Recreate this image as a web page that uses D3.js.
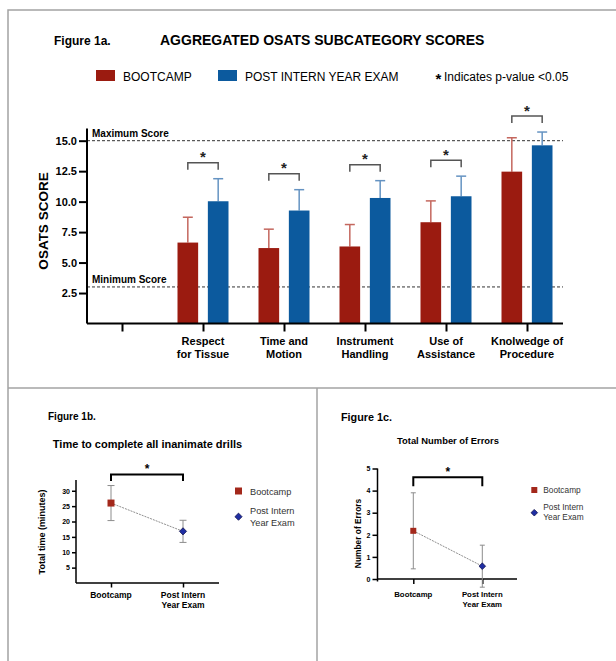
<!DOCTYPE html>
<html>
<head>
<meta charset="utf-8">
<script src="https://cdn.jsdelivr.net/npm/d3@7"></script>
<style>
  html, body { margin: 0; padding: 0; background: #fff; }
  svg { display: block; font-family: "Liberation Sans", Arial, Helvetica, sans-serif; }
</style>
</head>
<body>
<svg id="chart" width="616" height="661"></svg>
<script>
// ---- Figure 1a: aggregated OSATS subcategory scores ----
const categories = ["", "Respect for Tissue", "Time and Motion", "Instrument Handling", "Use of Assistance", "Knolwedge of Procedure"];
const categoryLines = [[], ["Respect", "for Tissue"], ["Time and", "Motion"], ["Instrument", "Handling"], ["Use of", "Assistance"], ["Knolwedge of", "Procedure"]];
const bootcampMean = [6.64, 6.19, 6.32, 8.31, 12.46];
const bootcampSD   = [2.08, 1.55, 1.80, 1.75, 2.78];
const postMean     = [10.03, 9.27, 10.30, 10.44, 14.62];
const postSD       = [1.85, 1.71, 1.42, 1.65, 1.09];
const significant  = [true, true, true, true, true];
const scoreTicks   = [2.5, 5, 7.5, 10, 12.5, 15];
const scoreLimits  = [{ value: 15, label: "Maximum Score" }, { value: 3, label: "Minimum Score" }];
const seriesNames  = ["BOOTCAMP", "POST INTERN YEAR EXAM"];

// ---- Figure 1b: time to complete all inanimate drills ----
const groups     = ["Bootcamp", "Post Intern Year Exam"];
const groupLines = [["Bootcamp"], ["Post Intern", "Year Exam"]];
const timeMean   = [26.0, 16.8];
const timeErr    = [5.7, 3.6];
const timeTicks  = [5, 10, 15, 20, 25, 30];

// ---- Figure 1c: total number of errors ----
const errorMean  = [2.18, 0.58];
const errorErr   = [1.72, 0.95];
const errorTicks = [0, 1, 2, 3, 4, 5];

const legendNames = [["Bootcamp"], ["Post Intern", "Year Exam"]];

const RED = "#9b1b10", BLUE = "#0c5a9e";
const RED_WHISKER = "#c4675e", BLUE_WHISKER = "#6593c2";
const MARK_RED = "#a3281b", MARK_BLUE = "#1f2ea3";

const svg = d3.select("#chart");

// panel frame
const frame = svg.append("g").attr("fill", "none").attr("stroke", "#a3a3a3").attr("stroke-width", 1.5);
frame.append("path").attr("d", "M8,661V10H616");
frame.append("path").attr("d", "M8,388H616");
frame.append("path").attr("d", "M317,388V661");

// =========================== Figure 1a ===========================
const g1 = svg.append("g");
g1.append("text").attr("x", 54).attr("y", 45).attr("font-size", 12).attr("font-weight", "bold").text("Figure 1a.");
g1.append("text").attr("x", 160).attr("y", 44.5).attr("font-size", 14).attr("font-weight", "bold")
  .text("AGGREGATED OSATS SUBCATEGORY SCORES");

// legend
const leg1 = g1.append("g").attr("font-size", 12);
const legendX = [96, 218];
seriesNames.forEach((name, i) => {
  leg1.append("rect").attr("x", legendX[i]).attr("y", 70).attr("width", 19).attr("height", 11)
    .attr("fill", i === 0 ? RED : BLUE);
  leg1.append("text").attr("x", legendX[i] + 27).attr("y", 81).text(name);
});
leg1.append("text").attr("x", 438.5).attr("y", 84).attr("text-anchor", "middle").attr("font-size", 15).attr("font-weight", "bold").text("*");
leg1.append("text").attr("x", 444).attr("y", 81).text("Indicates p-value <0.05");

const x1a = d3.scalePoint().domain(categories).range([122, 527]);
const sub = d3.scaleBand().domain(["bootcamp", "post"]).range([-25.5, 25.5]).paddingInner(0.32);
const y1a = d3.scaleLinear().domain([0, 16]).range([323.5, 128.5]);
const plotLeft = 87, plotRight = 563;

// reference lines for max / min score
scoreLimits.forEach(s => {
  g1.append("line").attr("x1", plotLeft).attr("x2", plotRight)
    .attr("y1", y1a(s.value)).attr("y2", y1a(s.value))
    .attr("stroke", "#333").attr("stroke-width", 1).attr("stroke-dasharray", "3,2");
  g1.append("text").attr("x", plotLeft + 5).attr("y", y1a(s.value) - 4)
    .attr("font-size", 10).attr("font-weight", "bold").text(s.label);
});

const rows = categories.slice(1).map((c, i) => ({
  cat: c,
  sig: significant[i],
  values: [
    { key: "bootcamp", mean: bootcampMean[i], sd: bootcampSD[i], fill: RED, whisker: RED_WHISKER },
    { key: "post", mean: postMean[i], sd: postSD[i], fill: BLUE, whisker: BLUE_WHISKER }
  ]
}));

const barG = g1.append("g");
const cells = barG.selectAll("g.cat").data(rows).join("g").attr("class", "cat")
  .attr("transform", d => `translate(${x1a(d.cat)},0)`);
const bars = cells.selectAll("g.bar").data(d => d.values).join("g").attr("class", "bar");
// whiskers (upper SD only)
bars.append("line")
  .attr("x1", d => sub(d.key) + sub.bandwidth() / 2).attr("x2", d => sub(d.key) + sub.bandwidth() / 2)
  .attr("y1", d => y1a(d.mean)).attr("y2", d => y1a(d.mean + d.sd))
  .attr("stroke", d => d.whisker).attr("stroke-width", 1.5);
bars.append("line")
  .attr("x1", d => sub(d.key) + sub.bandwidth() / 2 - 5).attr("x2", d => sub(d.key) + sub.bandwidth() / 2 + 5)
  .attr("y1", d => y1a(d.mean + d.sd)).attr("y2", d => y1a(d.mean + d.sd))
  .attr("stroke", d => d.whisker).attr("stroke-width", 1.5);
bars.append("rect")
  .attr("x", d => sub(d.key)).attr("width", sub.bandwidth())
  .attr("y", d => y1a(d.mean)).attr("height", d => y1a(0) - y1a(d.mean))
  .attr("fill", d => d.fill);

// significance brackets
cells.filter(d => d.sig).each(function (d) {
  const xa = sub("bootcamp") + sub.bandwidth() / 2;
  const xb = sub("post") + sub.bandwidth() / 2;
  const legBottom = Math.min(...d.values.map(v => y1a(v.mean + v.sd))) - 9;
  const top = legBottom - 7;
  const g = d3.select(this);
  g.append("path").attr("d", `M${xa},${legBottom}V${top}H${xb}V${legBottom}`)
    .attr("fill", "none").attr("stroke", "#555").attr("stroke-width", 1.5);
  g.append("text").attr("x", (xa + xb) / 2).attr("y", top - 0.5).attr("text-anchor", "middle")
    .attr("font-size", 15).attr("font-weight", "bold").attr("fill", "#222").text("*");
});

// axes
const yAx1 = g1.append("g").attr("transform", `translate(${plotLeft},0)`)
  .call(d3.axisLeft(y1a).tickValues(scoreTicks).tickFormat(d3.format(".1f")).tickSize(8).tickPadding(2).tickSizeOuter(0));
yAx1.select(".domain").attr("d", `M0,${y1a(0)}V${y1a(16)}`);
const xAx1 = g1.append("g").attr("transform", `translate(0,${y1a(0)})`)
  .call(d3.axisBottom(x1a).tickSize(8).tickFormat("").tickSizeOuter(0));
xAx1.select(".domain").attr("d", `M${plotLeft},0H${plotRight}`);
[yAx1, xAx1].forEach(a => {
  a.selectAll("path,line").attr("stroke", "#000").attr("stroke-width", 2);
  a.selectAll("text").attr("font-size", 11).attr("font-weight", "bold").attr("fill", "#000")
    .attr("font-family", "Liberation Sans, Arial, sans-serif");
});
// category labels (two lines)
categories.forEach((c, i) => {
  const t = g1.append("text").attr("text-anchor", "middle").attr("font-size", 11).attr("font-weight", "bold");
  categoryLines[i].forEach((line, j) => {
    t.append("tspan").attr("x", x1a(c)).attr("y", 345 + j * 12.5).text(line);
  });
});
g1.append("text").attr("transform", `translate(48,221) rotate(-90)`).attr("text-anchor", "middle")
  .attr("font-size", 13.5).attr("font-weight", "bold").text("OSATS SCORE");

// ================ shared dot-plot drawer (1b / 1c) ================
function dotPanel(opt) {
  const g = svg.append("g");
  const x = d3.scalePoint().domain(groups).range(opt.xRange);
  const y = d3.scaleLinear().domain(opt.yDomain).range(opt.yRange);

  g.append("text").attr("x", opt.figX).attr("y", opt.figY).attr("font-size", opt.figSize)
    .attr("font-weight", "bold").text(opt.figLabel);
  g.append("text").attr("x", opt.titleX).attr("y", opt.titleY).attr("text-anchor", "middle")
    .attr("font-size", opt.titleSize).attr("font-weight", "bold").text(opt.title);

  // axes
  const ya = g.append("g").attr("transform", `translate(${opt.axisLeft},0)`)
    .call(d3.axisLeft(y).tickValues(opt.ticks).tickFormat(d3.format("d")).tickSize(opt.tickLen).tickPadding(2).tickSizeOuter(0));
  ya.select(".domain").attr("d", `M0,${y(opt.yDomain[0]) + opt.yOvershoot}V${y(opt.yDomain[1])}`);
  const xa = g.append("g").attr("transform", `translate(0,${y(0)})`)
    .call(d3.axisBottom(x).tickSize(opt.xTickLen).tickFormat("").tickSizeOuter(0));
  xa.select(".domain").attr("d", `M${opt.axisLeft},0H${opt.axisRight}`);
  [ya, xa].forEach(a => {
    a.selectAll("path,line").attr("stroke", "#000").attr("stroke-width", 1.5);
    a.selectAll("text").attr("font-size", 7).attr("font-weight", "bold").attr("fill", "#000")
      .attr("font-family", "Liberation Sans, Arial, sans-serif");
  });
  groups.forEach((grp, i) => {
    const t = g.append("text").attr("text-anchor", "middle").attr("font-size", opt.labelSize).attr("font-weight", "bold");
    groupLines[i].forEach((line, j) => {
      t.append("tspan").attr("x", x(grp)).attr("y", opt.labelY + j * opt.labelGap).text(line);
    });
  });
  g.append("text").attr("transform", `translate(${opt.yLabelX},${opt.yLabelY}) rotate(-90)`)
    .attr("text-anchor", "middle").attr("font-size", opt.yLabelSize).attr("font-weight", "bold").text(opt.yLabel);

  const pts = groups.map((grp, i) => ({ grp, mean: opt.mean[i], err: opt.err[i] }));

  // error bars
  pts.forEach(p => {
    const cx = x(p.grp);
    g.append("line").attr("x1", cx).attr("x2", cx).attr("y1", y(p.mean - p.err)).attr("y2", y(p.mean + p.err))
      .attr("stroke", "#8c8c8c").attr("stroke-width", 1);
    [p.mean - p.err, p.mean + p.err].forEach(v => {
      g.append("line").attr("x1", cx - opt.cap).attr("x2", cx + opt.cap).attr("y1", y(v)).attr("y2", y(v))
        .attr("stroke", "#8c8c8c").attr("stroke-width", 1);
    });
  });
  // connecting line
  g.append("path").attr("d", d3.line().x(p => x(p.grp)).y(p => y(p.mean))(pts))
    .attr("fill", "none").attr("stroke", "#8f8f8f").attr("stroke-width", 1).attr("stroke-dasharray", "2,1");

  // significance bracket
  const bTop = y(opt.bracketVal);
  g.append("path").attr("d", `M${x(groups[0])},${bTop + opt.bracketLeg}V${bTop}H${x(groups[1])}V${bTop + opt.bracketLeg}`)
    .attr("fill", "none").attr("stroke", "#000").attr("stroke-width", 2);
  g.append("text").attr("x", (x(groups[0]) + x(groups[1])) / 2).attr("y", bTop - 1).attr("text-anchor", "middle")
    .attr("font-size", 12).attr("font-weight", "bold").text("*");

  // markers
  const square = d3.symbol().type(d3.symbolSquare).size(opt.squareSize)();
  const diamond = d3.symbol().type(d3.symbolSquare).size(opt.diamondSize)();
  g.append("path").attr("d", square).attr("transform", `translate(${x(groups[0])},${y(pts[0].mean)})`)
    .attr("fill", MARK_RED);
  g.append("path").attr("d", diamond).attr("transform", `translate(${x(groups[1])},${y(pts[1].mean)}) rotate(45)`)
    .attr("fill", MARK_BLUE).attr("stroke", "#10104a").attr("stroke-width", 0.7);

  // legend
  const lg = g.append("g").attr("font-size", opt.legSize);
  lg.append("path").attr("d", square).attr("transform", `translate(${opt.legX},${opt.legY[0]})`).attr("fill", MARK_RED);
  lg.append("path").attr("d", diamond).attr("transform", `translate(${opt.legX},${opt.legY[1]}) rotate(45)`)
    .attr("fill", MARK_BLUE).attr("stroke", "#10104a").attr("stroke-width", 0.7);
  legendNames.forEach((lines, i) => {
    const t = lg.append("text").attr("fill", "#333");
    lines.forEach((line, j) => {
      t.append("tspan").attr("x", opt.legX + opt.legTextDx).attr("y", opt.legTextY[i] + j * opt.legGap).text(line);
    });
  });
}

dotPanel({
  figLabel: "Figure 1b.", figX: 48, figY: 419.5, figSize: 10,
  title: "Time to complete all inanimate drills", titleX: 147.5, titleY: 447.5, titleSize: 11,
  xRange: [111, 183], yDomain: [0, 33.5], yRange: [583, 480],
  axisLeft: 76, axisRight: 219, yOvershoot: 0, ticks: timeTicks, tickLen: 4, xTickLen: 4.5,
  labelSize: 8.5, labelY: 598, labelGap: 10.2,
  yLabel: "Total time (minutes)", yLabelX: 45, yLabelY: 532, yLabelSize: 9,
  mean: timeMean, err: timeErr, cap: 3.5,
  bracketVal: 35.3, bracketLeg: 6.5,
  squareSize: 49, diamondSize: 26,
  legX: 238.5, legY: [491, 516.7], legSize: 9.2, legTextDx: 11.5, legTextY: [494.5, 514.2], legGap: 11.5
});

dotPanel({
  figLabel: "Figure 1c.", figX: 341, figY: 420.5, figSize: 10.8,
  title: "Total Number of Errors", titleX: 448, titleY: 444.2, titleSize: 9.4,
  xRange: [413.3, 482.3], yDomain: [0, 5], yRange: [579, 468.5],
  axisLeft: 377.5, axisRight: 517, yOvershoot: 2.5, ticks: errorTicks, tickLen: 5, xTickLen: 5,
  labelSize: 7.8, labelY: 597, labelGap: 9.5,
  yLabel: "Number of Errors", yLabelX: 361, yLabelY: 533.5, yLabelSize: 8.4,
  mean: errorMean, err: errorErr, cap: 2.5,
  bracketVal: 4.6, bracketLeg: 9,
  squareSize: 36, diamondSize: 22,
  legX: 534.3, legY: [490, 512.7], legSize: 8.3, legTextDx: 9, legTextY: [492.5, 510], legGap: 9.5
});
</script>
</body>
</html>
